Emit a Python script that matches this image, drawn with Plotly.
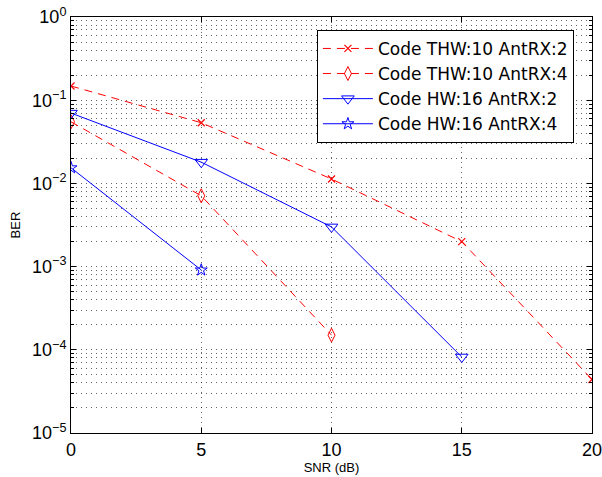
import plotly.graph_objects as go

snr = [0, 5, 10, 15, 20]
thw10_rx2 = [0.148, 0.0536, 0.0113, 0.0020, 4.4e-5]
thw10_rx4 = [0.055, 0.0071, 1.5e-4]
hw16_rx2 = [0.070, 0.018, 0.0030, 8.2e-5]
hw16_rx4 = [0.0154, 9.1e-4]
names = ["Code THW:10 AntRX:2", "Code THW:10 AntRX:4", "Code HW:16 AntRX:2", "Code HW:16 AntRX:4"]
ytick_vals = [1e-5, 1e-4, 1e-3, 1e-2, 1e-1, 1e0]
ytick_text = ["10<sup>\u22125</sup>", "10<sup>\u22124</sup>", "10<sup>\u22123</sup>",
              "10<sup>\u22122</sup>", "10<sup>\u22121</sup>", "10<sup>0</sup>"]
xtick_vals = [0, 5, 10, 15, 20]

RED = "#ff0000"
BLUE = "#0000ff"
dash = "8px,6px"
GRID = "rgba(0,0,0,0.6)"
GDASH = "1px,4px"

fig = go.Figure()
fig.add_trace(go.Scatter(x=snr[:len(thw10_rx2)], y=thw10_rx2, name=names[0], mode="lines+markers",
                         line=dict(color=RED, width=1, dash=dash),
                         marker=dict(symbol="x-thin-open", size=7, line=dict(color=RED, width=1.2))))
fig.add_trace(go.Scatter(x=snr[:len(thw10_rx4)], y=thw10_rx4, name=names[1], mode="lines+markers",
                         line=dict(color=RED, width=1, dash=dash),
                         marker=dict(symbol="diamond-tall-open", size=10, color=RED, line=dict(color=RED, width=1))))
fig.add_trace(go.Scatter(x=snr[:len(hw16_rx2)], y=hw16_rx2, name=names[2], mode="lines+markers",
                         line=dict(color=BLUE, width=1),
                         marker=dict(symbol="triangle-down-open", size=11, color=BLUE, line=dict(color=BLUE, width=1))))
fig.add_trace(go.Scatter(x=snr[:len(hw16_rx4)], y=hw16_rx4, name=names[3], mode="lines+markers",
                         line=dict(color=BLUE, width=1),
                         marker=dict(symbol="star-open", size=9, color=BLUE, line=dict(color=BLUE, width=1))))

minor_y = [m * 10 ** e for e in range(-5, 0) for m in range(2, 10)]

fig.update_layout(
    width=602, height=477,
    margin=dict(l=71, r=10, t=17, b=44, autoexpand=False),
    paper_bgcolor="white", plot_bgcolor="white",
    font=dict(family="Liberation Sans, Arial, sans-serif", color="black"),
    showlegend=True,
    legend=dict(x=0.472, y=0.969, xanchor="left", yanchor="top",
                bgcolor="white", bordercolor="black", borderwidth=1,
                font=dict(size=17, family="DejaVu Sans, sans-serif"), tracegroupgap=0, itemwidth=50),
)
fig.update_xaxes(
    range=[0, 20], tickmode="array", tickvals=xtick_vals, automargin=False,
    ticklabeloverflow="allow",
    ticks="inside", ticklen=5, tickcolor="black", tickfont=dict(size=18),
    showline=True, linecolor="black", linewidth=1, mirror="ticks",
    showgrid=True, gridcolor=GRID, griddash=GDASH, gridwidth=1,
    zeroline=False,
    title=dict(text="SNR (dB)", font=dict(size=13), standoff=4),
)
fig.update_yaxes(
    type="log", range=[-5, 0], tickmode="array", tickvals=ytick_vals, ticktext=ytick_text,
    automargin=False, ticklabeloverflow="allow",
    ticks="inside", ticklen=5, tickcolor="black", tickfont=dict(size=18),
    showline=True, linecolor="black", linewidth=1, mirror="ticks",
    showgrid=True, gridcolor=GRID, griddash=GDASH, gridwidth=1,
    zeroline=False,
    minor=dict(tickmode="array", tickvals=minor_y, ticks="inside", ticklen=3, tickcolor="black",
               showgrid=True, gridcolor=GRID, griddash=GDASH, gridwidth=1),
    title=dict(text="BER", font=dict(size=13), standoff=8),
)

fig.write_html("out.html", config={"displayModeBar": False},
               post_script="document.body.style.margin='0';document.body.style.overflow='hidden';")
